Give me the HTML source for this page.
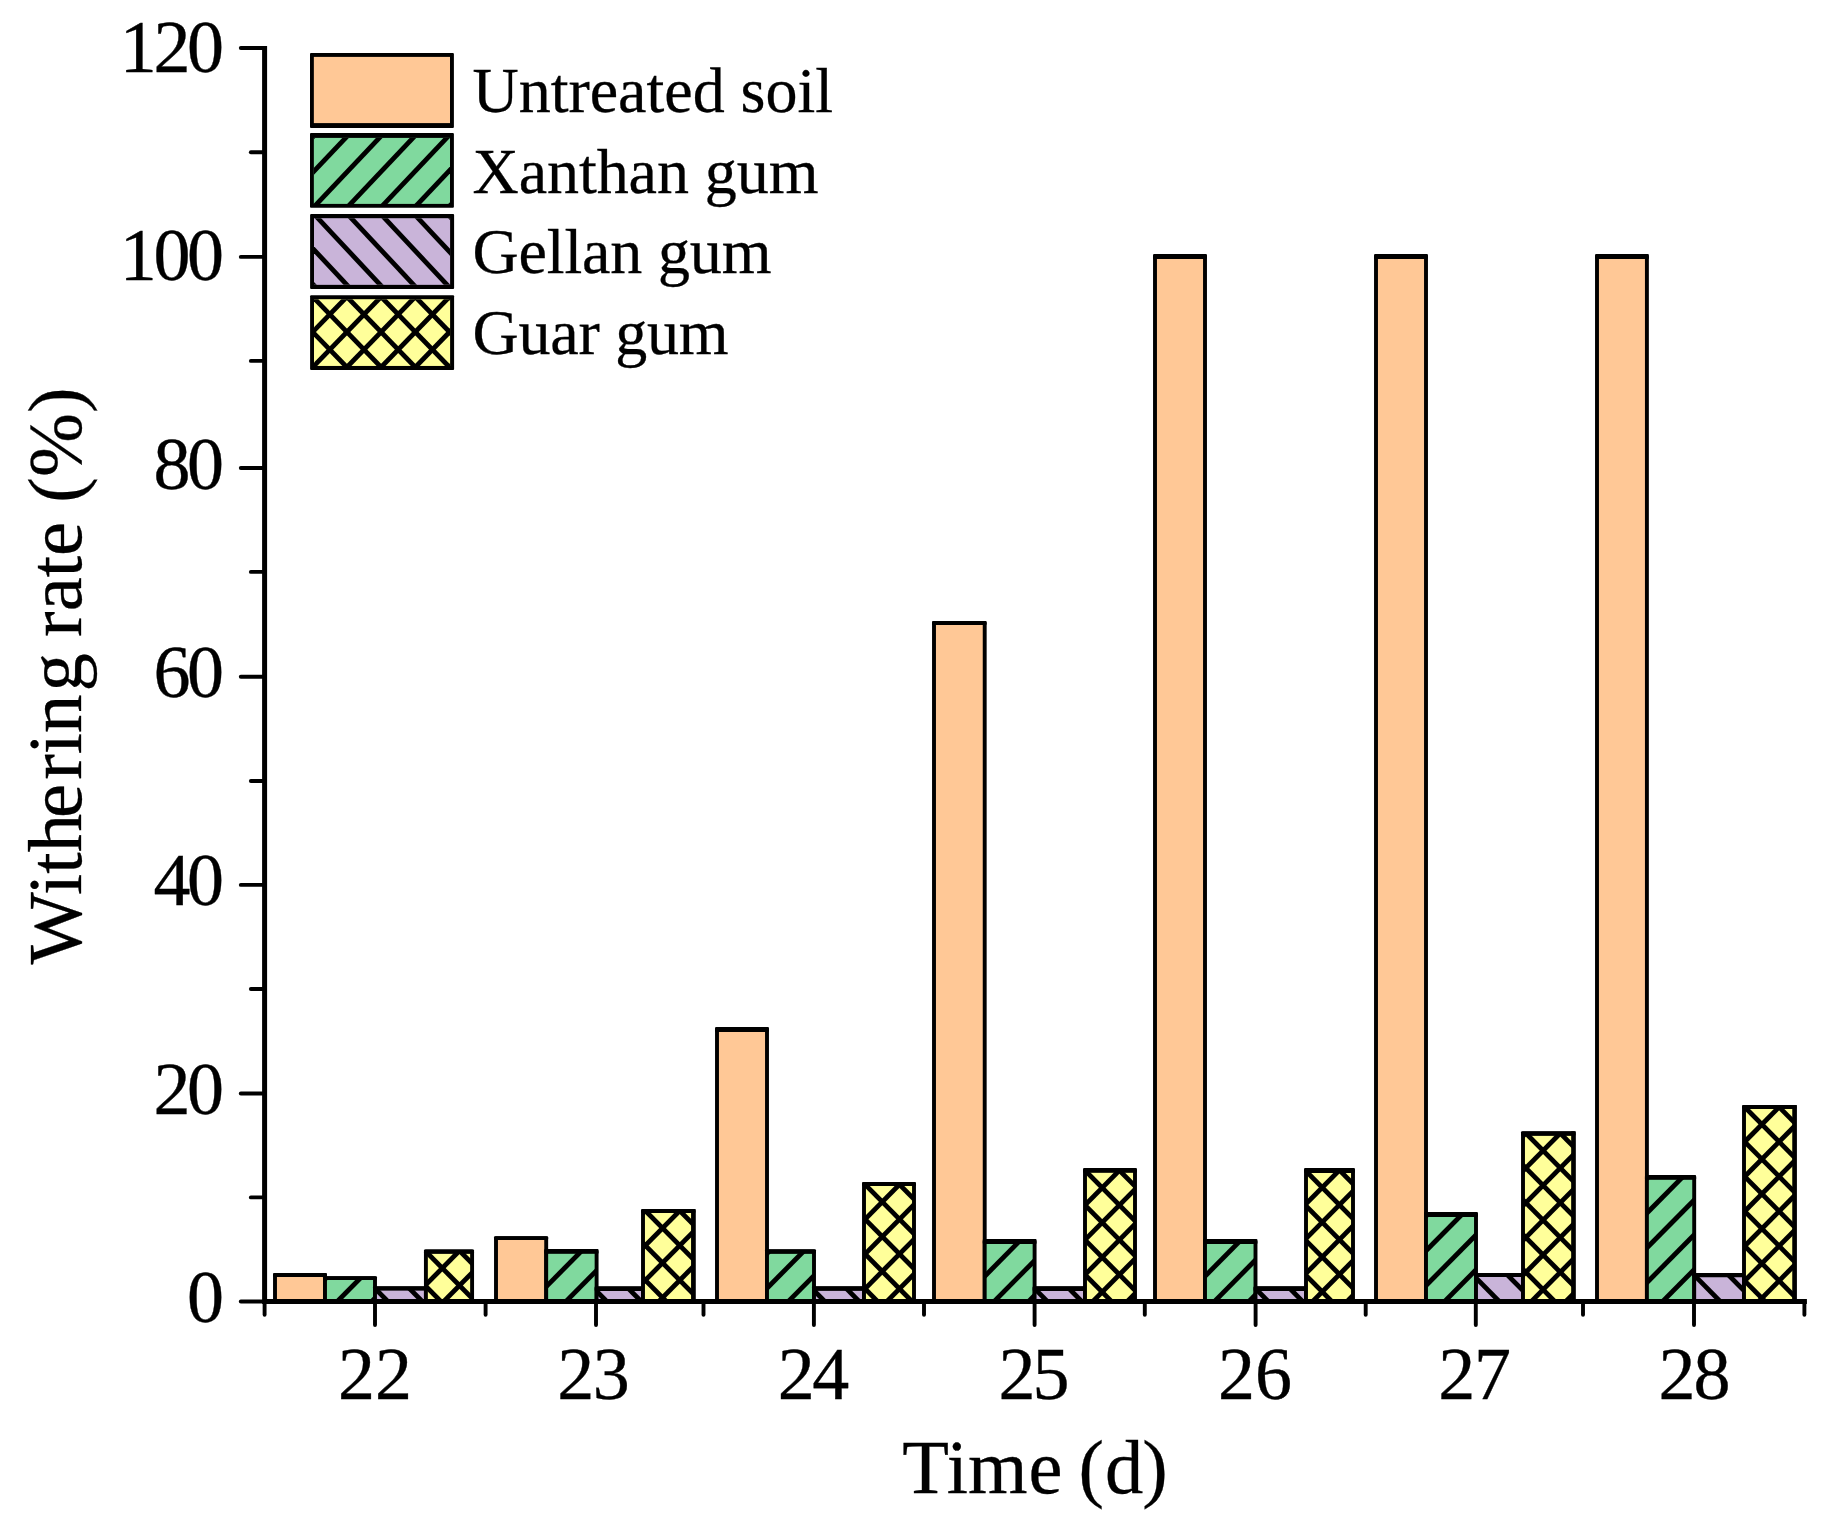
<!DOCTYPE html>
<html lang="en"><head><meta charset="utf-8"><title>Withering rate</title>
<style>html,body{margin:0;padding:0;background:#fff}body{width:1841px;height:1528px;overflow:hidden}</style></head>
<body>
<svg width="1841" height="1528" viewBox="0 0 1841 1528" style="display:block;font-family:'Liberation Serif', 'Times New Roman', serif">
<rect width="1841" height="1528" fill="#fff"/>
<g id="bars">
<rect x="275.00" y="1275.05" width="50.00" height="26.45" fill="#FFC896"/>

<path d="M275.00 1301.5V1275.05H325.00V1301.5" fill="none" stroke="#000" stroke-width="3.9" stroke-linejoin="round"/>
<rect x="273.05" y="1273.10" width="53.90" height="3.90" rx="1" fill="#000"/>
<rect x="325.00" y="1278.12" width="50.00" height="23.38" fill="#80D99E"/>
<svg x="325.00" y="1278.12" width="50.00" height="23.38" overflow="hidden"><g stroke="#000" stroke-width="4.8" fill="none"><path d="M-57.90 -10L-100.84 33.38"/><path d="M-23.50 -10L-66.44 33.38"/><path d="M10.90 -10L-32.04 33.38"/><path d="M45.30 -10L2.36 33.38"/><path d="M79.70 -10L36.76 33.38"/><path d="M114.10 -10L71.16 33.38"/><path d="M148.50 -10L105.56 33.38"/></g></svg>
<path d="M325.00 1301.5V1278.12H375.00V1301.5" fill="none" stroke="#000" stroke-width="3.9" stroke-linejoin="round"/>
<rect x="323.05" y="1276.25" width="53.90" height="3.75" rx="1" fill="#000"/>
<rect x="375.00" y="1288.42" width="50.90" height="13.08" fill="#C9B4D9"/>
<svg x="375.00" y="1288.42" width="50.90" height="13.08" overflow="hidden"><g stroke="#000" stroke-width="4.8" fill="none"><path d="M-78.70 -10L-45.96 23.08"/><path d="M-44.30 -10L-11.56 23.08"/><path d="M-9.90 -10L22.84 23.08"/><path d="M24.50 -10L57.24 23.08"/><path d="M58.90 -10L91.64 23.08"/><path d="M93.30 -10L126.04 23.08"/></g></svg>
<path d="M375.00 1301.5V1288.42H425.90V1301.5" fill="none" stroke="#000" stroke-width="3.9" stroke-linejoin="round"/>
<rect x="373.05" y="1286.25" width="54.80" height="4.35" rx="1" fill="#000"/>
<rect x="425.90" y="1251.55" width="46.20" height="49.95" fill="#FFFF9A"/>
<svg x="425.90" y="1251.55" width="46.20" height="49.95" overflow="hidden"><g stroke="#000" stroke-width="4.8" fill="none"><path d="M-26.09 -10L-95.34 59.95"/><path d="M8.31 -10L-60.94 59.95"/><path d="M42.71 -10L-26.54 59.95"/><path d="M77.11 -10L7.86 59.95"/><path d="M111.51 -10L42.26 59.95"/><path d="M145.91 -10L76.66 59.95"/><path d="M-113.11 -10L-43.86 59.95"/><path d="M-78.71 -10L-9.46 59.95"/><path d="M-44.31 -10L24.94 59.95"/><path d="M-9.91 -10L59.34 59.95"/><path d="M24.49 -10L93.74 59.95"/><path d="M58.89 -10L128.14 59.95"/><path d="M93.29 -10L162.54 59.95"/></g></svg>
<path d="M425.90 1301.5V1251.55H472.10V1301.5" fill="none" stroke="#000" stroke-width="3.9" stroke-linejoin="round"/>
<rect x="423.95" y="1249.40" width="50.10" height="4.30" rx="1" fill="#000"/>
<rect x="496.00" y="1238.10" width="50.20" height="63.40" fill="#FFC896"/>

<path d="M496.00 1301.5V1238.10H546.20V1301.5" fill="none" stroke="#000" stroke-width="3.9" stroke-linejoin="round"/>
<rect x="494.05" y="1236.20" width="54.10" height="3.80" rx="1" fill="#000"/>
<rect x="546.20" y="1251.40" width="50.40" height="50.10" fill="#80D99E"/>
<svg x="546.20" y="1251.40" width="50.40" height="50.10" overflow="hidden"><g stroke="#000" stroke-width="4.8" fill="none"><path d="M-58.40 -10L-127.79 60.10"/><path d="M-24.00 -10L-93.39 60.10"/><path d="M10.40 -10L-58.99 60.10"/><path d="M44.80 -10L-24.59 60.10"/><path d="M79.20 -10L9.81 60.10"/><path d="M113.60 -10L44.21 60.10"/><path d="M148.00 -10L78.61 60.10"/></g></svg>
<path d="M546.20 1301.5V1251.40H596.60V1301.5" fill="none" stroke="#000" stroke-width="3.9" stroke-linejoin="round"/>
<rect x="544.25" y="1249.10" width="54.30" height="4.60" rx="1" fill="#000"/>
<rect x="596.60" y="1288.60" width="46.40" height="12.90" fill="#C9B4D9"/>
<svg x="596.60" y="1288.60" width="46.40" height="12.90" overflow="hidden"><g stroke="#000" stroke-width="4.8" fill="none"><path d="M-81.20 -10L-48.63 22.90"/><path d="M-46.80 -10L-14.23 22.90"/><path d="M-12.40 -10L20.17 22.90"/><path d="M22.00 -10L54.57 22.90"/><path d="M56.40 -10L88.97 22.90"/><path d="M90.80 -10L123.37 22.90"/></g></svg>
<path d="M596.60 1301.5V1288.60H643.00V1301.5" fill="none" stroke="#000" stroke-width="3.9" stroke-linejoin="round"/>
<rect x="594.65" y="1286.20" width="50.30" height="4.80" rx="1" fill="#000"/>
<rect x="643.00" y="1211.10" width="50.50" height="90.40" fill="#FFFF9A"/>
<svg x="643.00" y="1211.10" width="50.50" height="90.40" overflow="hidden"><g stroke="#000" stroke-width="4.8" fill="none"><path d="M-56.90 -10L-166.19 100.40"/><path d="M-22.50 -10L-131.79 100.40"/><path d="M11.90 -10L-97.39 100.40"/><path d="M46.30 -10L-62.99 100.40"/><path d="M80.70 -10L-28.59 100.40"/><path d="M115.10 -10L5.81 100.40"/><path d="M149.50 -10L40.21 100.40"/><path d="M183.90 -10L74.61 100.40"/><path d="M218.30 -10L109.01 100.40"/><path d="M-144.80 -10L-35.51 100.40"/><path d="M-110.40 -10L-1.11 100.40"/><path d="M-76.00 -10L33.29 100.40"/><path d="M-41.60 -10L67.69 100.40"/><path d="M-7.20 -10L102.09 100.40"/><path d="M27.20 -10L136.49 100.40"/><path d="M61.60 -10L170.89 100.40"/><path d="M96.00 -10L205.29 100.40"/></g></svg>
<path d="M643.00 1301.5V1211.10H693.50V1301.5" fill="none" stroke="#000" stroke-width="3.9" stroke-linejoin="round"/>
<rect x="641.05" y="1209.10" width="54.40" height="4.00" rx="1" fill="#000"/>
<rect x="691.10" y="1209.10" width="4.50" height="92.40" fill="#000"/>
<rect x="717.00" y="1029.40" width="50.00" height="272.10" fill="#FFC896"/>

<path d="M717.00 1301.5V1029.40H767.00V1301.5" fill="none" stroke="#000" stroke-width="3.9" stroke-linejoin="round"/>
<rect x="715.05" y="1026.90" width="53.90" height="5.00" rx="1" fill="#000"/>
<rect x="767.00" y="1251.50" width="47.00" height="50.00" fill="#80D99E"/>
<svg x="767.00" y="1251.50" width="47.00" height="50.00" overflow="hidden"><g stroke="#000" stroke-width="4.8" fill="none"><path d="M-56.90 -10L-126.20 60.00"/><path d="M-22.50 -10L-91.80 60.00"/><path d="M11.90 -10L-57.40 60.00"/><path d="M46.30 -10L-23.00 60.00"/><path d="M80.70 -10L11.40 60.00"/><path d="M115.10 -10L45.80 60.00"/><path d="M149.50 -10L80.20 60.00"/></g></svg>
<path d="M767.00 1301.5V1251.50H814.00V1301.5" fill="none" stroke="#000" stroke-width="3.9" stroke-linejoin="round"/>
<rect x="765.05" y="1249.30" width="50.90" height="4.40" rx="1" fill="#000"/>
<rect x="814.00" y="1288.50" width="50.00" height="13.00" fill="#C9B4D9"/>
<svg x="814.00" y="1288.50" width="50.00" height="13.00" overflow="hidden"><g stroke="#000" stroke-width="4.8" fill="none"><path d="M-80.70 -10L-48.03 23.00"/><path d="M-46.30 -10L-13.63 23.00"/><path d="M-11.90 -10L20.77 23.00"/><path d="M22.50 -10L55.17 23.00"/><path d="M56.90 -10L89.57 23.00"/><path d="M91.30 -10L123.97 23.00"/></g></svg>
<path d="M814.00 1301.5V1288.50H864.00V1301.5" fill="none" stroke="#000" stroke-width="3.9" stroke-linejoin="round"/>
<rect x="812.05" y="1286.20" width="53.90" height="4.60" rx="1" fill="#000"/>
<rect x="864.00" y="1184.05" width="50.00" height="117.45" fill="#FFFF9A"/>
<svg x="864.00" y="1184.05" width="50.00" height="117.45" overflow="hidden"><g stroke="#000" stroke-width="4.8" fill="none"><path d="M-57.41 -10L-193.47 127.45"/><path d="M-23.01 -10L-159.07 127.45"/><path d="M11.39 -10L-124.67 127.45"/><path d="M45.79 -10L-90.27 127.45"/><path d="M80.19 -10L-55.87 127.45"/><path d="M114.59 -10L-21.47 127.45"/><path d="M148.99 -10L12.93 127.45"/><path d="M183.39 -10L47.33 127.45"/><path d="M217.79 -10L81.73 127.45"/><path d="M-181.29 -10L-45.23 127.45"/><path d="M-146.89 -10L-10.83 127.45"/><path d="M-112.49 -10L23.57 127.45"/><path d="M-78.09 -10L57.97 127.45"/><path d="M-43.69 -10L92.37 127.45"/><path d="M-9.29 -10L126.77 127.45"/><path d="M25.11 -10L161.17 127.45"/><path d="M59.51 -10L195.57 127.45"/><path d="M93.91 -10L229.97 127.45"/></g></svg>
<path d="M864.00 1301.5V1184.05H914.00V1301.5" fill="none" stroke="#000" stroke-width="3.9" stroke-linejoin="round"/>
<rect x="862.05" y="1182.10" width="53.90" height="3.90" rx="1" fill="#000"/>
<rect x="934.00" y="622.95" width="50.70" height="678.55" fill="#FFC896"/>

<path d="M934.00 1301.5V622.95H984.70V1301.5" fill="none" stroke="#000" stroke-width="3.9" stroke-linejoin="round"/>
<rect x="932.05" y="620.90" width="54.60" height="4.10" rx="1" fill="#000"/>
<rect x="984.70" y="1241.55" width="49.90" height="59.95" fill="#80D99E"/>
<svg x="984.70" y="1241.55" width="49.90" height="59.95" overflow="hidden"><g stroke="#000" stroke-width="4.8" fill="none"><path d="M-24.50 -10L-103.65 69.95"/><path d="M9.90 -10L-69.25 69.95"/><path d="M44.30 -10L-34.85 69.95"/><path d="M78.70 -10L-0.45 69.95"/><path d="M113.10 -10L33.95 69.95"/><path d="M147.50 -10L68.35 69.95"/><path d="M181.90 -10L102.75 69.95"/></g></svg>
<path d="M984.70 1301.5V1241.55H1034.60V1301.5" fill="none" stroke="#000" stroke-width="3.9" stroke-linejoin="round"/>
<rect x="982.75" y="1239.10" width="53.80" height="4.90" rx="1" fill="#000"/>
<rect x="1034.60" y="1288.55" width="50.40" height="12.95" fill="#C9B4D9"/>
<svg x="1034.60" y="1288.55" width="50.40" height="12.95" overflow="hidden"><g stroke="#000" stroke-width="4.8" fill="none"><path d="M-78.70 -10L-46.08 22.95"/><path d="M-44.30 -10L-11.68 22.95"/><path d="M-9.90 -10L22.72 22.95"/><path d="M24.50 -10L57.12 22.95"/><path d="M58.90 -10L91.52 22.95"/><path d="M93.30 -10L125.92 22.95"/></g></svg>
<path d="M1034.60 1301.5V1288.55H1085.00V1301.5" fill="none" stroke="#000" stroke-width="3.9" stroke-linejoin="round"/>
<rect x="1032.65" y="1286.20" width="54.30" height="4.70" rx="1" fill="#000"/>
<rect x="1085.00" y="1170.40" width="50.00" height="131.10" fill="#FFFF9A"/>
<svg x="1085.00" y="1170.40" width="50.00" height="131.10" overflow="hidden"><g stroke="#000" stroke-width="4.8" fill="none"><path d="M-24.50 -10L-174.08 141.10"/><path d="M9.90 -10L-139.68 141.10"/><path d="M44.30 -10L-105.28 141.10"/><path d="M78.70 -10L-70.88 141.10"/><path d="M113.10 -10L-36.48 141.10"/><path d="M147.50 -10L-2.08 141.10"/><path d="M181.90 -10L32.32 141.10"/><path d="M216.30 -10L66.72 141.10"/><path d="M250.70 -10L101.12 141.10"/><path d="M-181.90 -10L-32.32 141.10"/><path d="M-147.50 -10L2.08 141.10"/><path d="M-113.10 -10L36.48 141.10"/><path d="M-78.70 -10L70.88 141.10"/><path d="M-44.30 -10L105.28 141.10"/><path d="M-9.90 -10L139.68 141.10"/><path d="M24.50 -10L174.08 141.10"/><path d="M58.90 -10L208.48 141.10"/><path d="M93.30 -10L242.88 141.10"/></g></svg>
<path d="M1085.00 1301.5V1170.40H1135.00V1301.5" fill="none" stroke="#000" stroke-width="3.9" stroke-linejoin="round"/>
<rect x="1083.05" y="1168.10" width="53.90" height="4.60" rx="1" fill="#000"/>
<rect x="1155.00" y="256.43" width="50.00" height="1045.08" fill="#FFC896"/>

<path d="M1155.00 1301.5V256.43H1205.00V1301.5" fill="none" stroke="#000" stroke-width="3.9" stroke-linejoin="round"/>
<rect x="1153.05" y="253.90" width="53.90" height="5.05" rx="1" fill="#000"/>
<rect x="1205.00" y="1241.55" width="50.50" height="59.95" fill="#80D99E"/>
<svg x="1205.00" y="1241.55" width="50.50" height="59.95" overflow="hidden"><g stroke="#000" stroke-width="4.8" fill="none"><path d="M-24.50 -10L-103.65 69.95"/><path d="M9.90 -10L-69.25 69.95"/><path d="M44.30 -10L-34.85 69.95"/><path d="M78.70 -10L-0.45 69.95"/><path d="M113.10 -10L33.95 69.95"/><path d="M147.50 -10L68.35 69.95"/><path d="M181.90 -10L102.75 69.95"/></g></svg>
<path d="M1205.00 1301.5V1241.55H1255.50V1301.5" fill="none" stroke="#000" stroke-width="3.9" stroke-linejoin="round"/>
<rect x="1203.05" y="1239.10" width="54.40" height="4.90" rx="1" fill="#000"/>
<rect x="1255.50" y="1288.55" width="50.50" height="12.95" fill="#C9B4D9"/>
<svg x="1255.50" y="1288.55" width="50.50" height="12.95" overflow="hidden"><g stroke="#000" stroke-width="4.8" fill="none"><path d="M-78.70 -10L-46.08 22.95"/><path d="M-44.30 -10L-11.68 22.95"/><path d="M-9.90 -10L22.72 22.95"/><path d="M24.50 -10L57.12 22.95"/><path d="M58.90 -10L91.52 22.95"/><path d="M93.30 -10L125.92 22.95"/></g></svg>
<path d="M1255.50 1301.5V1288.55H1306.00V1301.5" fill="none" stroke="#000" stroke-width="3.9" stroke-linejoin="round"/>
<rect x="1253.55" y="1286.20" width="54.40" height="4.70" rx="1" fill="#000"/>
<rect x="1306.00" y="1170.50" width="47.00" height="131.00" fill="#FFFF9A"/>
<svg x="1306.00" y="1170.50" width="47.00" height="131.00" overflow="hidden"><g stroke="#000" stroke-width="4.8" fill="none"><path d="M-25.80 -10L-175.28 141.00"/><path d="M8.60 -10L-140.88 141.00"/><path d="M43.00 -10L-106.48 141.00"/><path d="M77.40 -10L-72.08 141.00"/><path d="M111.80 -10L-37.68 141.00"/><path d="M146.20 -10L-3.28 141.00"/><path d="M180.60 -10L31.12 141.00"/><path d="M215.00 -10L65.52 141.00"/><path d="M249.40 -10L99.92 141.00"/><path d="M-182.50 -10L-33.02 141.00"/><path d="M-148.10 -10L1.38 141.00"/><path d="M-113.70 -10L35.78 141.00"/><path d="M-79.30 -10L70.18 141.00"/><path d="M-44.90 -10L104.58 141.00"/><path d="M-10.50 -10L138.98 141.00"/><path d="M23.90 -10L173.38 141.00"/><path d="M58.30 -10L207.78 141.00"/><path d="M92.70 -10L242.18 141.00"/></g></svg>
<path d="M1306.00 1301.5V1170.50H1353.00V1301.5" fill="none" stroke="#000" stroke-width="3.9" stroke-linejoin="round"/>
<rect x="1304.05" y="1168.10" width="50.90" height="4.80" rx="1" fill="#000"/>
<rect x="1376.00" y="256.60" width="50.00" height="1044.90" fill="#FFC896"/>

<path d="M1376.00 1301.5V256.60H1426.00V1301.5" fill="none" stroke="#000" stroke-width="3.9" stroke-linejoin="round"/>
<rect x="1374.05" y="254.10" width="53.90" height="5.00" rx="1" fill="#000"/>
<rect x="1426.00" y="1214.50" width="50.00" height="87.00" fill="#80D99E"/>
<svg x="1426.00" y="1214.50" width="50.00" height="87.00" overflow="hidden"><g stroke="#000" stroke-width="4.8" fill="none"><path d="M-57.40 -10L-163.32 97.00"/><path d="M-23.00 -10L-128.92 97.00"/><path d="M11.40 -10L-94.52 97.00"/><path d="M45.80 -10L-60.12 97.00"/><path d="M80.20 -10L-25.72 97.00"/><path d="M114.60 -10L8.68 97.00"/><path d="M149.00 -10L43.08 97.00"/><path d="M183.40 -10L77.48 97.00"/></g></svg>
<path d="M1426.00 1301.5V1214.50H1476.00V1301.5" fill="none" stroke="#000" stroke-width="3.9" stroke-linejoin="round"/>
<rect x="1424.05" y="1212.10" width="53.90" height="4.80" rx="1" fill="#000"/>
<rect x="1476.00" y="1275.00" width="47.00" height="26.50" fill="#C9B4D9"/>
<svg x="1476.00" y="1275.00" width="47.00" height="26.50" overflow="hidden"><g stroke="#000" stroke-width="4.8" fill="none"><path d="M-81.60 -10L-35.57 36.50"/><path d="M-47.20 -10L-1.17 36.50"/><path d="M-12.80 -10L33.23 36.50"/><path d="M21.60 -10L67.63 36.50"/><path d="M56.00 -10L102.03 36.50"/><path d="M90.40 -10L136.43 36.50"/></g></svg>
<path d="M1476.00 1301.5V1275.00H1523.00V1301.5" fill="none" stroke="#000" stroke-width="3.9" stroke-linejoin="round"/>
<rect x="1474.05" y="1273.10" width="50.90" height="3.80" rx="1" fill="#000"/>
<rect x="1523.00" y="1133.55" width="50.50" height="167.95" fill="#FFFF9A"/>
<svg x="1523.00" y="1133.55" width="50.50" height="167.95" overflow="hidden"><g stroke="#000" stroke-width="4.8" fill="none"><path d="M-56.30 -10L-242.35 177.95"/><path d="M-21.90 -10L-207.95 177.95"/><path d="M12.50 -10L-173.55 177.95"/><path d="M46.90 -10L-139.15 177.95"/><path d="M81.30 -10L-104.75 177.95"/><path d="M115.70 -10L-70.35 177.95"/><path d="M150.10 -10L-35.95 177.95"/><path d="M184.50 -10L-1.55 177.95"/><path d="M218.90 -10L32.85 177.95"/><path d="M253.30 -10L67.25 177.95"/><path d="M287.70 -10L101.65 177.95"/><path d="M-213.10 -10L-27.05 177.95"/><path d="M-178.70 -10L7.35 177.95"/><path d="M-144.30 -10L41.75 177.95"/><path d="M-109.90 -10L76.15 177.95"/><path d="M-75.50 -10L110.55 177.95"/><path d="M-41.10 -10L144.95 177.95"/><path d="M-6.70 -10L179.35 177.95"/><path d="M27.70 -10L213.75 177.95"/><path d="M62.10 -10L248.15 177.95"/><path d="M96.50 -10L282.55 177.95"/></g></svg>
<path d="M1523.00 1301.5V1133.55H1573.50V1301.5" fill="none" stroke="#000" stroke-width="3.9" stroke-linejoin="round"/>
<rect x="1521.05" y="1131.30" width="54.40" height="4.50" rx="1" fill="#000"/>
<rect x="1571.30" y="1131.30" width="4.40" height="170.20" fill="#000"/>
<rect x="1597.00" y="256.60" width="49.90" height="1044.90" fill="#FFC896"/>

<path d="M1597.00 1301.5V256.60H1646.90V1301.5" fill="none" stroke="#000" stroke-width="3.9" stroke-linejoin="round"/>
<rect x="1595.05" y="254.10" width="53.80" height="5.00" rx="1" fill="#000"/>
<rect x="1646.90" y="1177.35" width="47.30" height="124.15" fill="#80D99E"/>
<svg x="1646.90" y="1177.35" width="47.30" height="124.15" overflow="hidden"><g stroke="#000" stroke-width="4.8" fill="none"><path d="M-57.90 -10L-200.60 134.15"/><path d="M-23.50 -10L-166.20 134.15"/><path d="M10.90 -10L-131.80 134.15"/><path d="M45.30 -10L-97.40 134.15"/><path d="M79.70 -10L-63.00 134.15"/><path d="M114.10 -10L-28.60 134.15"/><path d="M148.50 -10L5.80 134.15"/><path d="M182.90 -10L40.20 134.15"/><path d="M217.30 -10L74.60 134.15"/></g></svg>
<path d="M1646.90 1301.5V1177.35H1694.20V1301.5" fill="none" stroke="#000" stroke-width="3.9" stroke-linejoin="round"/>
<rect x="1644.95" y="1174.90" width="51.20" height="4.90" rx="1" fill="#000"/>
<rect x="1694.20" y="1275.15" width="49.80" height="26.35" fill="#C9B4D9"/>
<svg x="1694.20" y="1275.15" width="49.80" height="26.35" overflow="hidden"><g stroke="#000" stroke-width="4.8" fill="none"><path d="M-78.70 -10L-32.82 36.35"/><path d="M-44.30 -10L1.58 36.35"/><path d="M-9.90 -10L35.98 36.35"/><path d="M24.50 -10L70.38 36.35"/><path d="M58.90 -10L104.78 36.35"/><path d="M93.30 -10L139.18 36.35"/></g></svg>
<path d="M1694.20 1301.5V1275.15H1744.00V1301.5" fill="none" stroke="#000" stroke-width="3.9" stroke-linejoin="round"/>
<rect x="1692.25" y="1273.10" width="53.70" height="4.10" rx="1" fill="#000"/>
<rect x="1744.00" y="1107.05" width="50.60" height="194.45" fill="#FFFF9A"/>
<svg x="1744.00" y="1107.05" width="50.60" height="194.45" overflow="hidden"><g stroke="#000" stroke-width="4.8" fill="none"><path d="M-58.20 -10L-270.49 204.45"/><path d="M-23.80 -10L-236.09 204.45"/><path d="M10.60 -10L-201.69 204.45"/><path d="M45.00 -10L-167.29 204.45"/><path d="M79.40 -10L-132.89 204.45"/><path d="M113.80 -10L-98.49 204.45"/><path d="M148.20 -10L-64.09 204.45"/><path d="M182.60 -10L-29.69 204.45"/><path d="M217.00 -10L4.71 204.45"/><path d="M251.40 -10L39.11 204.45"/><path d="M285.80 -10L73.51 204.45"/><path d="M320.20 -10L107.91 204.45"/><path d="M-250.00 -10L-37.71 204.45"/><path d="M-215.60 -10L-3.31 204.45"/><path d="M-181.20 -10L31.09 204.45"/><path d="M-146.80 -10L65.49 204.45"/><path d="M-112.40 -10L99.89 204.45"/><path d="M-78.00 -10L134.29 204.45"/><path d="M-43.60 -10L168.69 204.45"/><path d="M-9.20 -10L203.09 204.45"/><path d="M25.20 -10L237.49 204.45"/><path d="M59.60 -10L271.89 204.45"/><path d="M94.00 -10L306.29 204.45"/></g></svg>
<path d="M1744.00 1301.5V1107.05H1794.60V1301.5" fill="none" stroke="#000" stroke-width="3.9" stroke-linejoin="round"/>
<rect x="1742.05" y="1105.00" width="54.50" height="4.10" rx="1" fill="#000"/>
<rect x="1792.40" y="1105.00" width="4.40" height="196.50" fill="#000"/>
</g>
<g id="axes" stroke="#000" stroke-width="5.0" stroke-linecap="round" fill="none">
<path d="M264.6 48.4V1301.5H1804.4" stroke-linejoin="miter" stroke-linecap="square"/>
<path d="M264.6 1301.50h-23.8" stroke-width="3.9"/>
<path d="M264.6 1197.40h-13.75" stroke-width="3.9"/>
<path d="M264.6 1093.50h-23.8" stroke-width="3.9"/>
<path d="M264.6 989.00h-13.75" stroke-width="3.9"/>
<path d="M264.6 884.90h-23.8" stroke-width="3.9"/>
<path d="M264.6 781.00h-13.75" stroke-width="3.9"/>
<path d="M264.6 676.70h-23.8" stroke-width="3.9"/>
<path d="M264.6 571.90h-13.75" stroke-width="3.9"/>
<path d="M264.6 468.00h-23.8" stroke-width="3.9"/>
<path d="M264.6 360.90h-13.75" stroke-width="3.9"/>
<path d="M264.6 256.90h-23.8" stroke-width="3.9"/>
<path d="M264.6 152.20h-13.75" stroke-width="3.9"/>
<path d="M264.6 47.95h-23.8" stroke-width="3.9"/>
<path d="M375 1301.5v23.6" stroke-width="3.9"/>
<path d="M596 1301.5v23.6" stroke-width="3.9"/>
<path d="M813.9 1301.5v23.6" stroke-width="3.9"/>
<path d="M1034.6 1301.5v23.6" stroke-width="3.9"/>
<path d="M1255.6 1301.5v23.6" stroke-width="3.9"/>
<path d="M1475.8 1301.5v23.6" stroke-width="3.9"/>
<path d="M1694 1301.5v23.6" stroke-width="3.9"/>
<path d="M264.6 1301.5v13.2" stroke-width="3.9"/>
<path d="M485.6 1301.5v13.2" stroke-width="3.9"/>
<path d="M703.5 1301.5v13.2" stroke-width="3.9"/>
<path d="M924 1301.5v13.2" stroke-width="3.9"/>
<path d="M1144.8 1301.5v13.2" stroke-width="3.9"/>
<path d="M1365.7 1301.5v13.2" stroke-width="3.9"/>
<path d="M1583 1301.5v13.2" stroke-width="3.9"/>
<path d="M1804.4 1301.5v13.2" stroke-width="3.9"/>
</g>
<g id="ticklabels" font-size="74" fill="#000" stroke="#000" stroke-width="0.35">
<text x="187.00" y="1322.00" letter-spacing="-3.4">0</text>
<text x="153.40" y="1113.66" letter-spacing="-3.4">20</text>
<text x="153.40" y="905.33" letter-spacing="-3.4">40</text>
<text x="153.40" y="697.00" letter-spacing="-3.4">60</text>
<text x="153.40" y="488.67" letter-spacing="-3.4">80</text>
<text x="119.80" y="280.33" letter-spacing="-3.4">100</text>
<text x="119.80" y="72.00" letter-spacing="-3.4">120</text>
<text x="375.10" y="1398.8" text-anchor="middle" letter-spacing="0">22</text>
<text x="592.65" y="1398.8" text-anchor="middle" letter-spacing="-1.5">23</text>
<text x="812.25" y="1398.8" text-anchor="middle" letter-spacing="-2.5">24</text>
<text x="1032.40" y="1398.8" text-anchor="middle" letter-spacing="-3">25</text>
<text x="1255.00" y="1398.8" text-anchor="middle" letter-spacing="0">26</text>
<text x="1474.10" y="1398.8" text-anchor="middle" letter-spacing="-1.2">27</text>
<text x="1693.60" y="1398.8" text-anchor="middle" letter-spacing="-1.8">28</text>
</g>
<text x="1033.3" y="1492.8" font-size="76.5" text-anchor="middle" stroke="#000" stroke-width="0.3" dx="1.7 0.3 0 1 -3 0 1 -1">Time (d)</text>
<text transform="translate(81 676) rotate(-90)" font-size="76.8" text-anchor="middle" stroke="#000" stroke-width="0.3" dx="0 0 0 0 -4 4 0 0 3 -3">Withering rate (%)</text>
<g id="legend" stroke-width="0.3">
<rect x="310" y="52.9" width="143.90" height="75.00" rx="1" fill="#000"/>
<rect x="313.85" y="56.9" width="136.15" height="66.20" fill="#FFC896"/>
<rect x="310" y="133.1" width="143.90" height="74.70" rx="1" fill="#000"/>
<rect x="313.85" y="137.9" width="136.15" height="66.00" fill="#80D99E"/>
<svg x="313.85" y="137.90" width="136.15" height="66.00" overflow="hidden"><g stroke="#000" stroke-width="4.8" fill="none"><path d="M-26.18 -10L-107.59 76.00"/><path d="M7.52 -10L-73.89 76.00"/><path d="M41.22 -10L-40.19 76.00"/><path d="M74.92 -10L-6.49 76.00"/><path d="M108.62 -10L27.21 76.00"/><path d="M142.32 -10L60.91 76.00"/><path d="M176.02 -10L94.61 76.00"/><path d="M209.72 -10L128.31 76.00"/><path d="M243.42 -10L162.01 76.00"/></g></svg>
<rect x="310.1" y="213.9" width="144.00" height="75.10" rx="1" fill="#000"/>
<rect x="314" y="218.2" width="136.10" height="66.65" fill="#C9B4D9"/>
<svg x="314.00" y="218.20" width="136.10" height="66.65" overflow="hidden"><g stroke="#000" stroke-width="4.8" fill="none"><path d="M-105.66 -10L-24.59 76.65"/><path d="M-72.26 -10L8.81 76.65"/><path d="M-38.86 -10L42.21 76.65"/><path d="M-5.46 -10L75.61 76.65"/><path d="M27.94 -10L109.01 76.65"/><path d="M61.34 -10L142.41 76.65"/><path d="M94.74 -10L175.81 76.65"/><path d="M128.14 -10L209.21 76.65"/><path d="M161.54 -10L242.61 76.65"/></g></svg>
<rect x="310.1" y="295.2" width="144.00" height="74.80" rx="1" fill="#000"/>
<rect x="314" y="299.2" width="136.10" height="66.75" fill="#FFFF9A"/>
<svg x="314.00" y="299.20" width="136.10" height="66.75" overflow="hidden"><g stroke="#000" stroke-width="4.8" fill="none"><path d="M-28.12 -10L-112.40 76.75"/><path d="M6.08 -10L-78.20 76.75"/><path d="M40.28 -10L-44.00 76.75"/><path d="M74.48 -10L-9.80 76.75"/><path d="M108.68 -10L24.40 76.75"/><path d="M142.88 -10L58.60 76.75"/><path d="M177.08 -10L92.80 76.75"/><path d="M211.28 -10L127.00 76.75"/><path d="M245.48 -10L161.20 76.75"/><path d="M-111.28 -10L-27.00 76.75"/><path d="M-77.08 -10L7.20 76.75"/><path d="M-42.88 -10L41.40 76.75"/><path d="M-8.68 -10L75.60 76.75"/><path d="M25.52 -10L109.80 76.75"/><path d="M59.72 -10L144.00 76.75"/><path d="M93.92 -10L178.20 76.75"/><path d="M128.12 -10L212.40 76.75"/><path d="M162.32 -10L246.60 76.75"/></g></svg>
<text x="472.5" y="111.7" font-size="64" stroke="#000" textLength="360.5" lengthAdjust="spacing">Untreated soil</text>
<text x="472.5" y="193.2" font-size="64" stroke="#000" textLength="346" lengthAdjust="spacing">Xanthan gum</text>
<text x="472.5" y="272.8" font-size="64" stroke="#000" textLength="299" lengthAdjust="spacing">Gellan gum</text>
<text x="472.5" y="353.8" font-size="64" stroke="#000" textLength="256" lengthAdjust="spacing">Guar gum</text>
</g>
</svg>
</body></html>
